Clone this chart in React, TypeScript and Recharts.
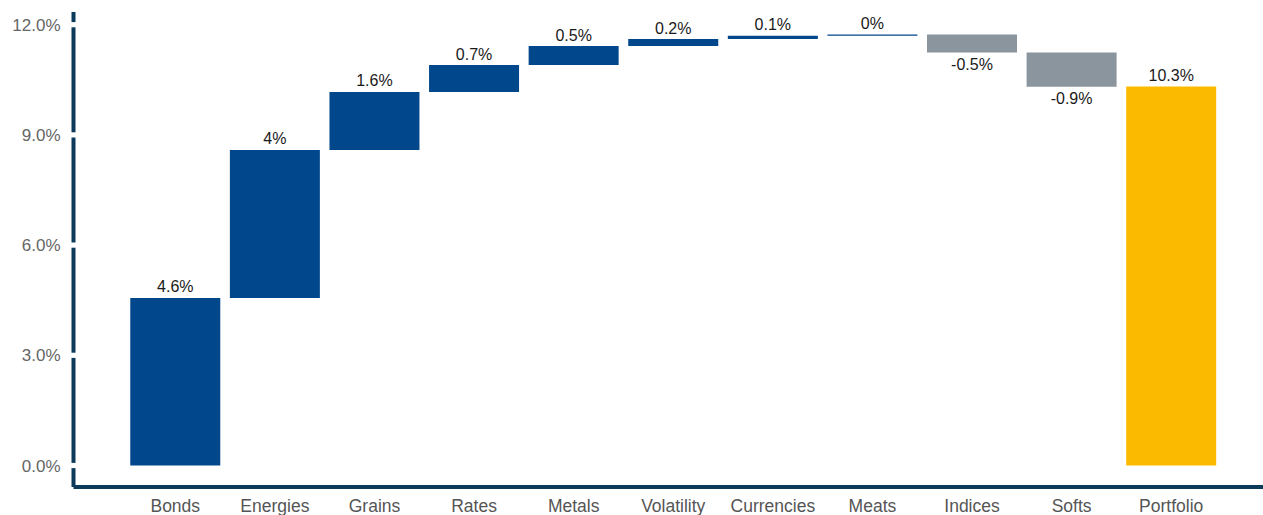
import React from "react";
import { BarChart, Bar, XAxis, YAxis, Cell, LabelList } from "recharts";

const categories = ["Bonds", "Energies", "Grains", "Rates", "Metals", "Volatility", "Currencies", "Meats", "Indices", "Softs", "Portfolio"];
// contributions of each sector (last entry is the portfolio total)
const contributions = [4.56, 4.03, 1.58, 0.73, 0.52, 0.19, 0.09, 0.03, -0.49, -0.93];
const portfolioTotal = 10.32;
const yTicks = [0, 3, 6, 9, 12];

const BLUE = "#00478b";
const GREY = "#8a959e";
const GOLD = "#fbb900";
const AXIS = "#0c3a5b";
const FONT = "'Liberation Sans', Arial, sans-serif";

let running = 0;
const rows = categories.map((name, i) => {
  if (i === contributions.length) {
    return { name, base: 0, size: portfolioTotal, delta: portfolioTotal, kind: "total" };
  }
  const d = contributions[i];
  const start = running;
  running += d;
  return { name, base: Math.min(start, running), size: Math.abs(d), delta: d, kind: d < 0 ? "neg" : "pos" };
});

const fmtLabel = (v: number) => `${Math.round(v * 10) / 10}%`;

const ValueLabel = (props: any) => {
  const { x, y, width, height, index } = props;
  const row = rows[index];
  const cx = x + width / 2;
  const ty = row.delta < 0 ? y + height + 17 : y - 5.5;
  return (
    <text x={cx} y={ty} textAnchor="middle" fill="#1a1a1a" fontSize={16} fontFamily={FONT}>
      {fmtLabel(row.delta)}
    </text>
  );
};

const Y_MARGIN = 13;
const YTick = (props: any) => {
  const { x, y, payload } = props;
  const axisX = x + Y_MARGIN;
  return (
    <g>
      <rect x={axisX - 4} y={y - 2.6} width={8} height={5.2} fill="#fff" />
      <text x={x} y={y} dy="0.36em" textAnchor="end" fill="#666" fontSize={17} fontFamily={FONT}>
        {payload.value.toFixed(1)}%
      </text>
    </g>
  );
};

const XTick = (props: any) => {
  const { x, y, payload } = props;
  return (
    <text x={x} y={y + 22.5} textAnchor="middle" fill="#555" fontSize={17.5} fontFamily={FONT}>
      {payload.value}
    </text>
  );
};

export default function App() {
  return (
    <div style={{ position: "absolute", left: 0, top: 0, background: "#fff" }}>
      <BarChart
        width={1263}
        height={515}
        data={rows}
        margin={{ top: 12, right: 0, left: 0, bottom: 0 }}
        barCategoryGap="4.8%"
      >
        <XAxis
          dataKey="name"
          height={28}
          padding={{ left: 52, right: 42 }}
          axisLine={{ stroke: AXIS, strokeWidth: 4 }}
          tickLine={false}
          tickSize={0}
          tick={<XTick />}
          interval={0}
        />
        <YAxis
          width={73.5}
          domain={[0, 12]}
          ticks={yTicks}
          padding={{ top: 12.7, bottom: 21.5 }}
          axisLine={{ stroke: AXIS, strokeWidth: 4 }}
          tickLine={false}
          tickSize={0}
          tickMargin={Y_MARGIN}
          tick={<YTick />}
          interval={0}
        />
        <Bar dataKey="base" stackId="w" fill="transparent" isAnimationActive={false} />
        <Bar dataKey="size" stackId="w" isAnimationActive={false}>
          {rows.map((r, i) => (
            <Cell key={i} fill={r.kind === "total" ? GOLD : r.kind === "neg" ? GREY : BLUE} />
          ))}
          <LabelList content={<ValueLabel />} />
        </Bar>
      </BarChart>
    </div>
  );
}
